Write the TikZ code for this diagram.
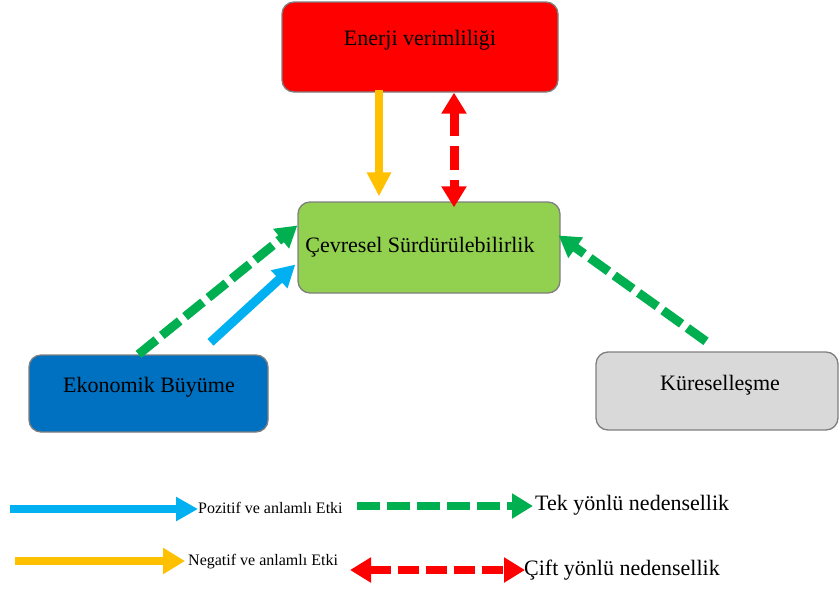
\documentclass[tikz,border=0pt]{standalone}
\usepackage{fontspec}
\setmainfont{Liberation Serif}
\usetikzlibrary{arrows.meta,calc}
\definecolor{boxred}{HTML}{FF0000}
\definecolor{boxgreen}{HTML}{92D050}
\definecolor{boxblue}{HTML}{0070C0}
\definecolor{boxgray}{HTML}{D9D9D9}
\definecolor{bordergray}{HTML}{7F7F7F}
\definecolor{aorange}{HTML}{FFC000}
\definecolor{ablue}{HTML}{00B0F0}
\definecolor{agreen}{HTML}{00B050}
\definecolor{ared}{HTML}{FF0000}
\begin{document}
\begin{tikzpicture}[x=1pt,y=-1pt,
  box/.style={draw=bordergray, line width=1.3pt, rounded corners=12pt, inner sep=0pt},
  boxtext/.style={font=\fontsize{22}{26}\selectfont, inner sep=0pt, anchor=base},
  legsmall/.style={font=\fontsize{16}{19}\selectfont, inner sep=0pt, anchor=base west},
  legbig/.style={font=\fontsize{22}{26}\selectfont, inner sep=0pt, anchor=base west},
  posarrow/.style={draw=ablue, line width=8pt, -{Triangle[width=23pt,length=22pt]}},
  negarrow/.style={draw=aorange, line width=8pt, -{Triangle[width=23pt,length=24pt]}},
  unidash/.style={draw=agreen, line width=8pt, dash pattern=on 23pt off 7pt, -{Triangle[width=24pt,length=21pt]}},
  bidash/.style={draw=ared, line width=8pt, dash pattern=on 21pt off 7pt, {Triangle[width=24pt,length=21pt]}-{Triangle[width=24pt,length=21pt]}}
]
\useasboundingbox (0,0) rectangle (840,589);

% boxes
\node[box, fill=boxred, minimum width=276pt, minimum height=90pt] (E) at (420,47) {};
\node[boxtext] (Et) at (420,45) {Enerji verimliliği};
\node[box, fill=boxgreen, minimum width=262pt, minimum height=91pt] (C) at (429,247.5) {};
\node[boxtext] (Ct) at (420,252) {Çevresel Sürdürülebilirlik};
\node[box, fill=boxblue, minimum width=239pt, minimum height=77pt] (B) at (148.5,393.5) {};
\node[boxtext] (Bt) at (149,392) {Ekonomik Büyüme};
\node[box, fill=boxgray, minimum width=242pt, minimum height=78pt] (K) at (717,391) {};
\node[boxtext] (Kt) at (720,390) {Küreselleşme};

% connectors
\draw[negarrow] ([xshift=-41pt,yshift=3pt]E.south) -- ([xshift=-50pt,yshift=5pt]C.north);
\draw[bidash, line width=9pt, dash pattern=on 24pt off 10pt] ([xshift=34pt]E.south) -- ([xshift=25pt,yshift=-6pt]C.north);
\draw[unidash, line width=9pt] ([xshift=-10pt]B.north) -- ([yshift=22pt]C.west);
\draw[posarrow, line width=9pt] ([xshift=62pt,yshift=12pt]B.north) -- ([xshift=-2pt,yshift=-17pt]C.west);
\draw[unidash, line width=9pt] ([xshift=-11pt,yshift=10pt]K.north) -- ([xshift=-2pt,yshift=12pt]C.east);

% legend
\node[legsmall] (pt) at (198,513) {Pozitif ve anlamlı Etki};
\coordinate (p0) at (10,509);
\draw[posarrow] (p0) -- ([yshift=4pt]pt.base west);

\node[legsmall] (nt) at (188,565) {Negatif ve anlamlı Etki};
\coordinate (n0) at (15,561);
\draw[negarrow, -{Triangle[width=25pt,length=22pt]}] (n0) -- ([xshift=-3pt,yshift=4pt]nt.base west);

\node[legbig] (tt) at (535,510) {Tek yönlü nedensellik};
\coordinate (t0) at (357,506);
\draw[unidash] (t0) -- ([xshift=-2pt,yshift=4pt]tt.base west);

\node[legbig] (ct) at (524,575) {Çift yönlü nedensellik};
\coordinate (c0) at (350,570);
\draw[bidash] (c0) -- ([xshift=1pt,yshift=5pt]ct.base west);
\end{tikzpicture}
\end{document}
